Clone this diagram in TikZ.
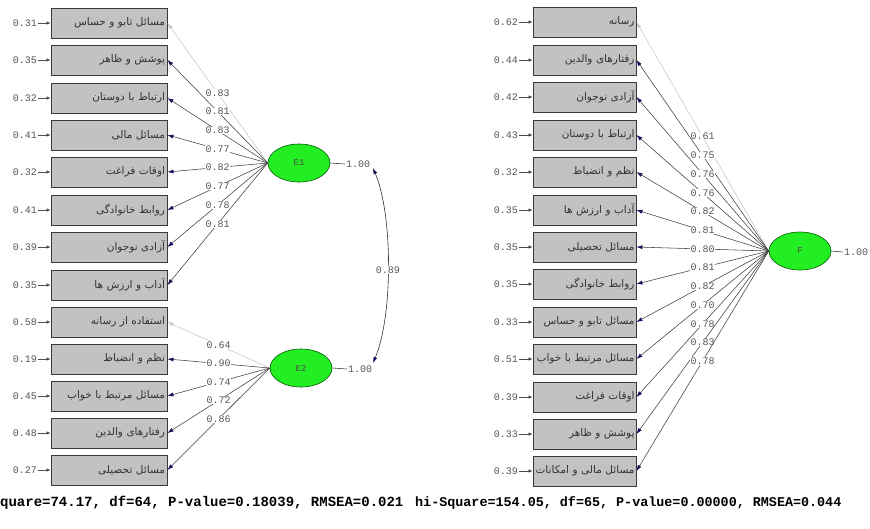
\documentclass[tikz,border=0pt]{standalone}
\usepackage{fontspec}
\setmainfont{Liberation Sans}
\newfontfamily\arfont[Script=Arabic]{DejaVu Sans}
\newfontfamily\monofont{Liberation Mono}
\TeXXeTstate=1
\usetikzlibrary{arrows.meta,shapes.geometric}
\definecolor{boxgray}{HTML}{C2C2C2}
\definecolor{boxedge}{HTML}{3A3A3A}
\definecolor{navy}{HTML}{10105A}
\definecolor{ellgreen}{HTML}{22EE22}
\definecolor{lblgray}{HTML}{555555}
\tikzset{
  ibox/.style={draw=boxedge, fill=boxgray, line width=0.9pt, minimum height=30pt, inner sep=0pt,
    font=\arfont\fontsize{10.5}{12}\selectfont, text=black!80},
  lbox/.style={ibox, minimum width=116pt, text width=112pt, align=right},
  rbox/.style={ibox, minimum width=103pt, text width=100pt, align=right},
  errlbl/.style={font=\monofont\fontsize{10}{10}\selectfont, text=lblgray, inner sep=1pt},
  errarr/.style={draw=black!70, line width=0.6pt, -{Latex[length=4pt,width=3.5pt,fill=navy]}},
  load/.style={draw=black!75, line width=0.55pt, -{Latex[length=6pt,width=4pt,fill=navy,color=navy]}},
  refload/.style={draw=black!22, line width=0.55pt, -{Latex[length=6pt,width=4pt,color=black!22]}},
  lbl/.style={font=\monofont\fontsize{10}{10}\selectfont, text=lblgray, fill=white, inner sep=0.5pt, pos=0.5},
  latent/.style={ellipse, draw=green!35!black, fill=ellgreen, line width=0.6pt, minimum width=62pt, minimum height=38pt, inner sep=0pt,
    font=\monofont\fontsize{9}{10}\selectfont, text=black!70},
  var/.style={font=\monofont\fontsize{10}{10}\selectfont, text=lblgray, inner sep=1pt, anchor=west},
  fit/.style={font=\monofont\bfseries, text=black, inner sep=0pt, anchor=west}
}
\newcommand\leftind[4]{%
  \node[lbox] (#1) at (109,#2) {#3};
  \node[errlbl, anchor=east] (#1e) at (38,#2) {#4};
  \draw[errarr] (#1e.east) -- (#1.west);}
\newcommand\rightind[4]{%
  \node[rbox] (#1) at (584.5,#2) {#3};
  \node[errlbl, anchor=east] (#1e) at (519,#2) {#4};
  \draw[errarr] (#1e.east) -- (#1.west);}
\begin{document}
\begin{tikzpicture}[x=1pt,y=-1pt]
\useasboundingbox (0,0) rectangle (870,528);
\fill[white] (0,0) rectangle (870,528);
% ---------- left model ----------
\leftind{a1}{23}{\beginR مسائل تابو و حساس\endR}{0.31}
\leftind{a2}{60}{\beginR پوشش و ظاهر\endR}{0.35}
\leftind{a3}{98}{\beginR ارتباط با دوستان\endR}{0.32}
\leftind{a4}{135}{\beginR مسائل مالی\endR}{0.41}
\leftind{a5}{172}{\beginR اوقات فراغت\endR}{0.32}
\leftind{a6}{210}{\beginR روابط خانوادگی\endR}{0.41}
\leftind{a7}{247}{\beginR آزادی نوجوان\endR}{0.39}
\leftind{a8}{285}{\beginR آداب و ارزش ها\endR}{0.35}
\leftind{a9}{322}{\beginR استفاده از رسانه\endR}{0.58}
\leftind{a10}{359}{\beginR نظم و انضباط\endR}{0.19}
\leftind{a11}{396}{\beginR مسائل مرتبط با خواب\endR}{0.45}
\leftind{a12}{433}{\beginR رفتارهای والدین\endR}{0.48}
\leftind{a13}{470}{\beginR مسائل تحصیلی\endR}{0.27}
\node[latent] (E1) at (299,163) {E1};
\node[latent] (E2) at (301,368) {E2};
\node[var] (v1) at (345,164) {1.00};
\node[var] (v2) at (347,369) {1.00};
\draw[black!75, line width=0.6pt] (E1.east) -- (v1.west);
\draw[black!75, line width=0.6pt] (E2.east) -- (v2.west);
\draw[refload] (E1.west) -- node[lbl]{0.83} (a1.east);
\draw[load] (E1.west) -- node[lbl]{0.81} (a2.east);
\draw[load] (E1.west) -- node[lbl]{0.83} (a3.east);
\draw[load] (E1.west) -- node[lbl]{0.77} (a4.east);
\draw[load] (E1.west) -- node[lbl]{0.82} (a5.east);
\draw[load] (E1.west) -- node[lbl]{0.77} (a6.east);
\draw[load] (E1.west) -- node[lbl]{0.78} (a7.east);
\draw[load] (E1.west) -- node[lbl]{0.81} (a8.east);
\draw[refload] (E2.west) -- node[lbl]{0.64} (a9.east);
\draw[load] (E2.west) -- node[lbl]{0.90} (a10.east);
\draw[load] (E2.west) -- node[lbl]{0.74} (a11.east);
\draw[load] (E2.west) -- node[lbl]{0.72} (a12.east);
\draw[load] (E2.west) -- node[lbl]{0.86} (a13.east);
\coordinate (c1) at (373,168);
\coordinate (c2) at (373,363);
\draw[draw=black!80, line width=0.6pt, {Latex[length=6pt,width=4pt,fill=navy,color=navy]}-{Latex[length=6pt,width=4pt,fill=navy,color=navy]}]
  (c1) .. controls (393,215) and (393,316) .. node[lbl, pos=0.52]{0.89} (c2);
% ---------- right model ----------
\rightind{b1}{22}{\beginR رسانه\endR}{0.62}
\rightind{b2}{60}{\beginR رفتارهای والدین\endR}{0.44}
\rightind{b3}{97}{\beginR آزادی نوجوان\endR}{0.42}
\rightind{b4}{135}{\beginR ارتباط با دوستان\endR}{0.43}
\rightind{b5}{172}{\beginR نظم و انضباط\endR}{0.32}
\rightind{b6}{210}{\beginR آداب و ارزش ها\endR}{0.35}
\rightind{b7}{247}{\beginR مسائل تحصیلی\endR}{0.35}
\rightind{b8}{284}{\beginR روابط خانوادگی\endR}{0.35}
\rightind{b9}{322}{\beginR مسائل تابو و حساس\endR}{0.33}
\rightind{b10}{359}{\beginR مسائل مرتبط با خواب\endR}{0.51}
\rightind{b11}{397}{\beginR اوقات فراغت\endR}{0.39}
\rightind{b12}{434}{\beginR پوشش و ظاهر\endR}{0.33}
\rightind{b13}{471}{\beginR مسائل مالی و امکانات\endR}{0.39}
\node[latent] (F) at (800,251) {F};
\node[var] (vf) at (843,252) {1.00};
\draw[black!75, line width=0.6pt] (F.east) -- (vf.west);
\draw[refload] (F.west) -- node[lbl]{0.61} (b1.east);
\draw[load] (F.west) -- node[lbl]{0.75} (b2.east);
\draw[load] (F.west) -- node[lbl]{0.76} (b3.east);
\draw[load] (F.west) -- node[lbl]{0.76} (b4.east);
\draw[load] (F.west) -- node[lbl]{0.82} (b5.east);
\draw[load] (F.west) -- node[lbl]{0.81} (b6.east);
\draw[load] (F.west) -- node[lbl]{0.80} (b7.east);
\draw[load] (F.west) -- node[lbl]{0.81} (b8.east);
\draw[load] (F.west) -- node[lbl]{0.82} (b9.east);
\draw[load] (F.west) -- node[lbl]{0.70} (b10.east);
\draw[load] (F.west) -- node[lbl]{0.78} (b11.east);
\draw[load] (F.west) -- node[lbl]{0.83} (b12.east);
\draw[load] (F.west) -- node[lbl]{0.78} (b13.east);
% ---------- fit statistics ----------
\node[fit, font=\monofont\bfseries\fontsize{14}{14}\selectfont] (fitL) at (0,503) {quare=74.17, df=64, P-value=0.18039, RMSEA=0.021};
\node[fit, font=\monofont\bfseries\fontsize{13.4}{14}\selectfont] (fitR) at (415,503) {hi-Square=154.05, df=65, P-value=0.00000, RMSEA=0.044};
\end{tikzpicture}
\end{document}
